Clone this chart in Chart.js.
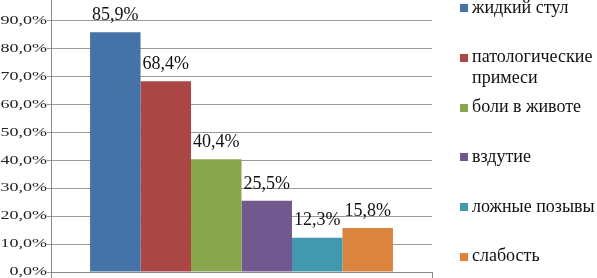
<!DOCTYPE html>
<html>
<head>
<meta charset="utf-8">
<script src="https://cdn.jsdelivr.net/npm/chart.js@4"></script>
<style>
  html, body { margin: 0; padding: 0; background: #fff; overflow: hidden; }
  #wrap { position: relative; width: 597px; height: 278px; }
  #legend { position: absolute; left: 460px; top: -3.5px; font-family: "Liberation Serif", "DejaVu Serif", serif; font-size: 18px; color: #111; }
  .item { position: relative; height: 49.8px; }
  .box { position: absolute; left: 0; top: 7.5px; width: 8px; height: 8px; }
  .txt { position: absolute; left: 12px; top: 0; width: 140px; line-height: 21px; white-space: normal; }
</style>
</head>
<body>
<div id="wrap">
  <canvas id="myChart" width="597" height="278"></canvas>
  <div id="legend"></div>
</div>
<script>
const categories = [''];
const seriesLabels = ['жидкий стул', 'патологические примеси', 'боли в животе', 'вздутие', 'ложные позывы', 'слабость'];
const seriesValues = [85.9, 68.4, 40.4, 25.5, 12.3, 15.8];
const yTicks = [0, 10, 20, 30, 40, 50, 60, 70, 80, 90];

const colors = ['#4572A7', '#AA4643', '#89A54E', '#71588F', '#4198AF', '#DB843D'];
const serif = '"Liberation Serif", "DejaVu Serif", serif';

function pct(v) {
  return v.toFixed(1).replace('.', ',') + '%';
}

// value labels above bars + stretched y tick labels
const labelsPlugin = {
  id: 'labels',
  afterDatasetsDraw(chart) {
    const ctx = chart.ctx;
    ctx.save();
    ctx.fillStyle = '#111';
    ctx.font = '18px ' + serif;
    ctx.textAlign = 'center';
    ctx.textBaseline = 'middle';
    chart.data.datasets.forEach((ds, i) => {
      const bar = chart.getDatasetMeta(i).data[0];
      ctx.fillText(pct(ds.data[0]), bar.x, bar.y - 17);
    });

    const y = chart.scales.y;
    ctx.font = '12px ' + serif;
    ctx.textAlign = 'right';
    ctx.fillStyle = '#222';
    yTicks.forEach(t => {
      const py = y.getPixelForValue(t);
      ctx.save();
      ctx.translate(47, py);
      ctx.scale(1.5, 1);
      ctx.fillText(pct(t), 0, 0);
      ctx.restore();
    });
    ctx.restore();
  }
};

const ctx = document.getElementById('myChart').getContext('2d');
const myChart = new Chart(ctx, {
  type: 'bar',
  data: {
    labels: categories,
    datasets: seriesLabels.map((label, i) => ({
      label: label,
      data: [seriesValues[i]],
      backgroundColor: colors[i],
      borderWidth: 0
    }))
  },
  options: {
    responsive: false,
    animation: false,
    categoryPercentage: 0.795,
    barPercentage: 1,
    layout: { padding: { left: 0, right: 165, top: 0, bottom: 0 } },
    plugins: {
      legend: { display: false },
      tooltip: { enabled: false }
    },
    scales: {
      x: {
        ticks: { display: false },
        grid: { display: true, drawOnChartArea: false, drawTicks: true, tickLength: 6, color: '#888' },
        border: { color: '#888' },
        afterFit(scale) { scale.height = 6; }
      },
      y: {
        min: 0,
        max: 97.5,
        ticks: { display: false, stepSize: 10 },
        afterBuildTicks(scale) {
          scale.ticks = yTicks.map(v => ({ value: v }));
        },
        grid: { color: '#999', tickLength: 4 },
        border: { color: '#888' },
        afterFit(scale) { scale.width = 51; }
      }
    }
  },
  plugins: [labelsPlugin]
});

// legend
const legendEl = document.getElementById('legend');
seriesLabels.forEach((label, i) => {
  const item = document.createElement('div');
  item.className = 'item';
  item.innerHTML = '<div class="box" style="background:' + colors[i] + '"></div><div class="txt">' + label + '</div>';
  legendEl.appendChild(item);
});
</script>
</body>
</html>
